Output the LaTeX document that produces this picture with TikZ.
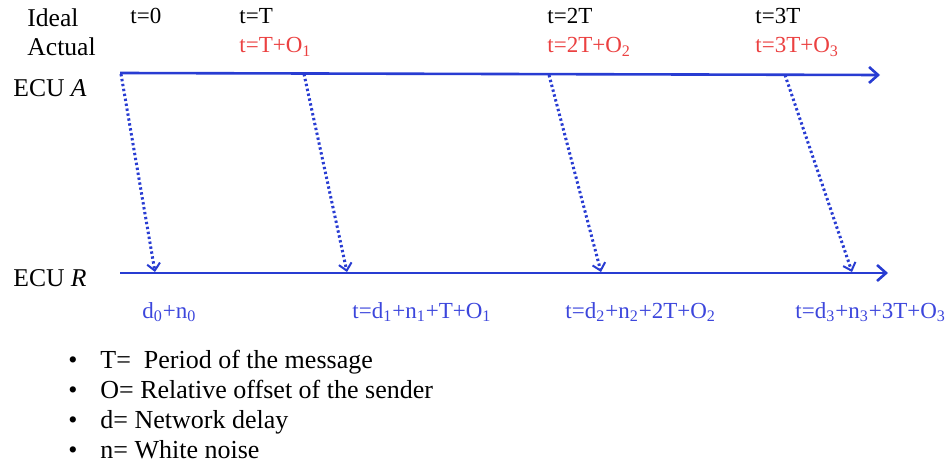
\documentclass[tikz,border=0pt]{standalone}
\usepackage{fontspec}
\setmainfont{Liberation Serif}
\usetikzlibrary{arrows.meta}
\definecolor{lineblue}{RGB}{40,60,210}
\definecolor{textblue}{RGB}{60,70,220}
\definecolor{offsetred}{RGB}{235,65,65}
\begin{document}
\begin{tikzpicture}[x=0.5pt,y=-0.5pt]
      \useasboundingbox (0,0) rectangle (945,465);
      
      \tikzstyle{rowlabel} = [
        anchor=base west,
        inner sep=0pt,
        font=\fontsize{12.8}{14}\selectfont
      ]
      \tikzstyle{timelabel} = [
        anchor=base west,
        inner sep=0pt,
        font=\fontsize{11.5}{13}\selectfont
      ]
      \tikzstyle{actuallabel} = [timelabel, text=offsetred]
      \tikzstyle{recvlabel} = [timelabel, text=textblue]
      \tikzstyle{notelabel} = [
        anchor=base west,
        inner sep=0pt,
        font=\fontsize{13}{15}\selectfont
      ]
      
      \tikzstyle{timeline} = [line width=1.3pt, draw=lineblue, -{Straight Barb[length=4.5pt,width=8pt]}]
      \tikzstyle{message} = [line width=1.5pt, draw=lineblue, dash pattern=on 1.2pt off 1.3pt,
        -{Straight Barb[length=3.5pt,width=6.5pt,line width=1pt]}]
      
      % row labels
      \node[rowlabel] (idealLabel) at (27,27) {Ideal};
      \node[rowlabel] (actualLabel) at (27,55) {Actual};
      \node[rowlabel] (ecuALabel) at (13,97) {ECU \textit{A}};
      \node[rowlabel] (ecuRLabel) at (13,286) {ECU \textit{R}};
      
      % ideal send times
      \node[timelabel] (ideal0) at (130,24) {t=0};
      \node[timelabel] (ideal1) at (239,24) {t=T};
      \node[timelabel] (ideal2) at (547,24) {t=2T};
      \node[timelabel] (ideal3) at (755,24) {t=3T};
      
      % actual send times
      \node[actuallabel] (actual1) at (239,53) {t=T+O\textsubscript{1}};
      \node[actuallabel] (actual2) at (547,53) {t=2T+O\textsubscript{2}};
      \node[actuallabel] (actual3) at (755,53) {t=3T+O\textsubscript{3}};
      
      % timelines
      \coordinate (lineAstart) at (120,73);
      \coordinate (lineAend) at (880,75);
      \coordinate (lineRstart) at (120,273);
      \coordinate (lineRend) at (888,273);
      \draw[timeline] (lineAstart) -- (lineAend);
      \draw[timeline] (lineRstart) -- (lineRend);
      
      % messages
      \coordinate (send0) at (121,74);
      \coordinate (send1) at (304,74);
      \coordinate (send2) at (549,75);
      \coordinate (send3) at (785,75);
      \coordinate (recv0) at (155,272);
      \coordinate (recv1) at (347,272);
      \coordinate (recv2) at (601,272);
      \coordinate (recv3) at (852,272);
      \draw[message] (send0) -- (recv0);
      \draw[message] (send1) -- (recv1);
      \draw[message] (send2) -- (recv2);
      \draw[message] (send3) -- (recv3);
      
      % receive times
      \node[recvlabel] (recvTime0) at (142,318) {d\textsubscript{0}+n\textsubscript{0}};
      \node[recvlabel] (recvTime1) at (352,318) {t=d\textsubscript{1}+n\textsubscript{1}+T+O\textsubscript{1}};
      \node[recvlabel] (recvTime2) at (565,318) {t=d\textsubscript{2}+n\textsubscript{2}+2T+O\textsubscript{2}};
      \node[recvlabel] (recvTime3) at (795,318) {t=d\textsubscript{3}+n\textsubscript{3}+3T+O\textsubscript{3}};
      
      % legend
      \node[notelabel] (notePeriod) at (68,368) {\makebox[16pt][l]{\textbullet}T=\ \ Period of the message};
      \node[notelabel] (noteOffset) at (68,398) {\makebox[16pt][l]{\textbullet}O= Relative offset of the sender};
      \node[notelabel] (noteDelay) at (68,428) {\makebox[16pt][l]{\textbullet}d= Network delay};
      \node[notelabel] (noteNoise) at (68,458) {\makebox[16pt][l]{\textbullet}n= White noise};
    \end{tikzpicture}
\end{document}
